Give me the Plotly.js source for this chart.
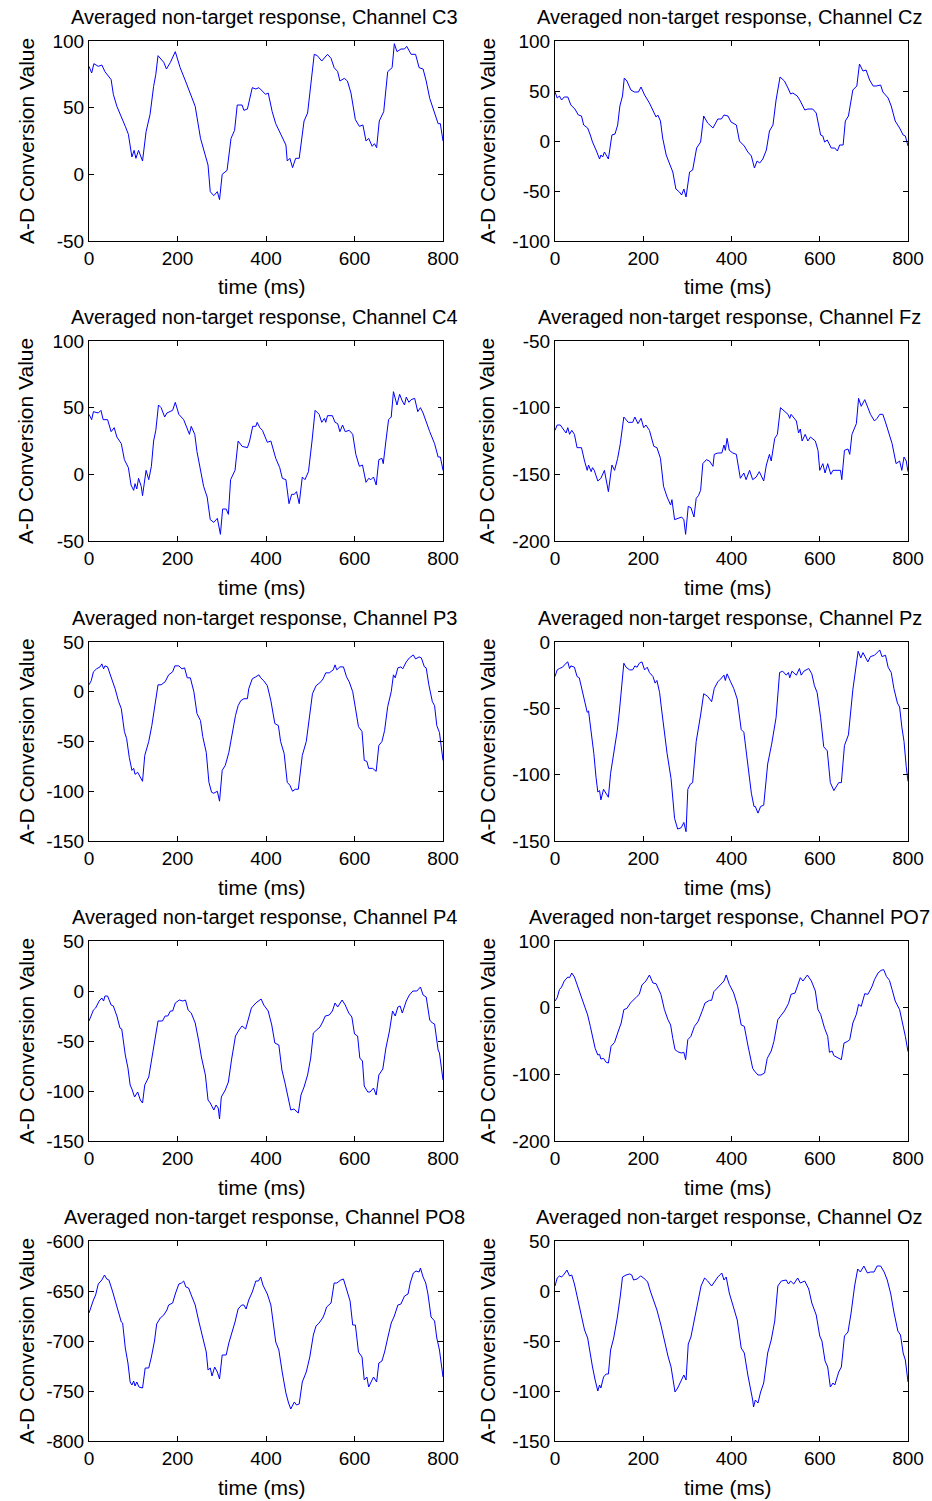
<!DOCTYPE html>
<html>
<head>
<meta charset="utf-8">
<script src="https://cdn.plot.ly/plotly-3.0.1.min.js"></script>
<style>html,body{margin:0;padding:0;background:#fff;}#chart{width:932px;height:1501px;}</style>
</head>
<body>
<div id="chart"></div>
<script>
// ---- Data ----
var channels = ["C3", "Cz", "C4", "Fz", "P3", "Pz", "P4", "PO7", "PO8", "Oz"];
var xTickVals = [0, 200, 400, 600, 800];
var xTickText = ["0", "200", "400", "600", "800"];

var t_C3 = [0,6,11,21,29,36,50,55,63,74,82,89,97,102,106,112,121,129,138,146,151,156,169,175,184,195,206,218,229,240,252,263,269,274,282,290,295,301,312,321,329,335,346,350,358,369,377,384,392,399,405,414,422,429,437,445,448,454,460,467,475,486,494,501,509,516,526,539,547,554,562,567,577,584,592,602,611,619,626,632,640,645,650,656,666,675,685,690,696,705,713,718,728,738,746,755,762,770,781,789,794,800];
var v_C3 = [81,76,83,81,82,77,71,60,51,43,36,30,13,18,12,18,10,32,45,66,75,89,84,79,84,92,80,70,61,51,27,15,7,-13,-16,-13,-19,0,3,27,33,52,52,48,49,65,64,65,62,60,61,47,38,33,27,22,10,12,5,12,12,40,46,67,90,89,85,90,87,80,77,70,72,70,61,41,36,37,25,27,21,23,20,40,47,77,80,98,92,94,94,96,90,90,80,79,70,57,45,38,38,25];

var t_Cz = [0,5,10,15,21,29,36,45,53,60,65,74,80,85,93,101,104,108,112,121,129,136,142,147,153,157,163,172,180,189,195,203,214,222,229,233,239,244,252,259,267,274,282,287,292,297,305,312,321,330,337,346,358,369,377,383,392,399,411,418,429,437,445,452,458,464,471,479,486,494,501,510,520,528,534,539,549,556,566,573,584,592,602,607,611,617,626,634,640,645,653,658,665,675,684,690,698,705,713,721,728,738,743,755,762,771,781,789,794,800];
var v_Cz = [49,43,45,41,44,44,36,32,26,25,16,13,6,-1,-9,-18,-14,-16,-11,-18,6,7,16,35,45,63,60,51,49,49,54,46,38,30,24,26,20,3,-14,-22,-31,-48,-51,-54,-48,-56,-31,-29,-7,-1,25,18,13,22,22,26,25,19,16,0,-5,-11,-15,-27,-20,-22,-18,-9,10,16,41,64,60,53,47,48,45,40,31,32,32,28,6,5,-1,1,-7,-7,-10,-4,-4,20,25,51,55,77,70,71,61,55,55,56,49,43,35,20,13,6,5,-5];

var t_C4 = [0,6,10,21,27,32,42,50,57,63,73,80,89,95,101,104,108,112,118,121,129,135,141,146,151,157,163,171,176,189,195,203,214,222,227,231,239,244,252,259,267,274,282,290,293,297,302,310,315,320,330,337,346,358,363,370,377,380,386,392,403,411,422,431,437,445,452,458,464,469,475,482,488,496,504,511,520,526,532,535,539,550,556,562,567,573,579,588,596,603,611,618,626,632,637,643,649,655,662,665,671,677,683,688,696,702,708,713,717,723,728,736,743,749,755,762,770,781,789,794,800];
var v_C4 = [45,41,47,46,48,41,41,32,35,28,23,11,5,-8,-12,-7,-11,-3,-9,-16,3,-4,6,25,33,52,50,43,46,48,54,45,41,35,30,36,30,17,2,-9,-17,-34,-36,-33,-38,-45,-26,-26,-30,-4,3,25,21,20,25,36,36,39,35,33,24,25,12,5,-3,-4,-22,-15,-15,-13,-22,-2,-4,2,25,48,45,39,42,39,44,44,39,38,32,37,32,33,30,15,6,7,-6,-3,-4,-2,-8,11,12,8,25,41,43,62,52,60,55,52,58,54,56,57,47,50,46,39,32,23,13,13,3];

var t_Fz = [0,5,12,20,25,29,33,38,44,50,60,67,73,76,82,85,89,97,104,112,116,121,129,135,142,148,156,166,176,181,188,195,201,206,214,224,231,239,246,254,262,265,271,278,287,292,296,302,308,315,320,325,330,335,343,350,358,361,369,378,383,386,390,395,403,411,420,428,433,441,448,456,463,473,479,486,490,498,504,511,520,528,532,535,547,552,556,560,567,573,579,590,596,600,607,612,618,625,630,641,647,650,656,664,668,673,683,688,694,702,708,715,724,730,736,743,751,764,773,781,786,791,796,800];
var v_Fz = [-117,-113,-113,-117,-119,-115,-120,-117,-120,-130,-130,-140,-147,-143,-148,-145,-147,-155,-153,-147,-153,-163,-143,-147,-138,-127,-107,-111,-111,-107,-112,-108,-115,-113,-117,-129,-130,-138,-159,-167,-173,-169,-184,-183,-182,-184,-195,-174,-175,-182,-168,-166,-162,-142,-139,-140,-144,-135,-134,-134,-128,-132,-123,-132,-134,-135,-153,-149,-154,-147,-154,-152,-148,-155,-143,-135,-140,-123,-120,-100,-103,-105,-108,-105,-110,-119,-116,-125,-120,-125,-122,-125,-132,-147,-142,-149,-142,-150,-147,-147,-147,-154,-132,-131,-135,-120,-112,-93,-99,-94,-99,-105,-110,-108,-105,-105,-113,-127,-142,-140,-147,-137,-140,-148];

var t_P3 = [0,5,10,17,25,29,33,36,42,51,59,67,73,80,85,91,97,101,104,110,116,121,126,135,142,148,156,163,172,180,189,194,203,210,216,222,229,237,244,252,257,265,271,277,282,290,295,301,308,316,324,331,337,343,350,358,361,369,377,384,388,395,403,411,420,428,433,441,448,454,460,466,473,482,491,499,505,513,524,529,535,543,552,556,560,567,575,582,588,596,602,609,617,622,628,632,641,649,655,662,668,675,683,688,692,698,705,709,717,724,733,738,746,751,758,762,768,776,781,786,792,800];
var v_P3 = [7,11,20,23,25,28,23,26,25,14,3,-10,-17,-40,-47,-66,-79,-77,-83,-81,-86,-90,-64,-50,-34,-17,7,7,10,17,20,26,26,23,24,14,14,0,-22,-29,-45,-61,-91,-101,-102,-100,-110,-79,-74,-61,-39,-24,-14,-9,-7,-7,3,13,15,17,14,11,6,-9,-32,-34,-50,-62,-91,-94,-100,-98,-98,-64,-50,-25,-2,6,10,13,19,19,22,27,22,25,25,15,10,0,-16,-35,-40,-69,-70,-77,-77,-80,-54,-50,-39,-15,0,17,14,24,25,23,30,34,37,33,35,34,25,24,7,-10,-14,-34,-41,-69];

var t_Pz = [0,5,10,17,25,29,33,36,44,50,55,63,68,73,76,82,88,93,97,101,104,110,116,121,126,133,141,146,150,156,161,169,176,181,186,191,197,203,209,214,222,227,231,237,242,248,254,263,271,278,286,292,297,301,307,312,320,330,337,346,355,361,369,375,383,386,390,398,405,413,422,428,437,445,451,454,460,466,473,482,491,501,509,516,524,529,532,537,547,554,558,564,575,582,588,594,602,609,617,624,632,637,643,649,656,665,675,687,693,698,704,709,715,724,736,741,749,755,762,768,776,781,786,791,796,800];
var v_Pz = [-26,-21,-20,-19,-16,-15,-20,-18,-19,-26,-27,-38,-44,-53,-52,-68,-84,-102,-113,-112,-119,-111,-114,-117,-99,-85,-67,-52,-36,-16,-19,-21,-21,-18,-19,-16,-15,-21,-19,-23,-26,-31,-29,-38,-52,-69,-84,-103,-133,-141,-140,-136,-143,-111,-107,-106,-75,-55,-39,-41,-45,-35,-30,-28,-25,-29,-24,-30,-35,-43,-66,-68,-95,-114,-124,-124,-129,-124,-123,-92,-77,-57,-23,-22,-25,-23,-27,-22,-25,-20,-25,-22,-20,-24,-33,-38,-57,-79,-82,-106,-112,-109,-106,-106,-78,-70,-36,-7,-12,-8,-12,-15,-11,-10,-6,-11,-10,-19,-23,-35,-46,-49,-64,-75,-94,-105];

var t_P4 = [0,5,10,15,23,29,33,36,42,50,55,63,70,74,82,88,93,97,103,110,116,121,126,135,142,148,156,166,172,178,184,189,195,204,212,218,224,231,240,248,254,263,269,274,282,287,292,295,299,308,315,322,331,339,346,354,360,367,377,384,389,395,405,413,420,429,436,443,451,456,463,467,473,479,486,494,501,507,514,522,528,534,543,550,556,562,572,579,587,594,600,607,612,618,622,630,635,643,649,655,664,671,679,686,692,698,703,708,717,724,732,741,749,755,762,770,776,781,789,792,800];
var v_P4 = [-30,-24,-19,-17,-10,-7,-10,-5,-5,-14,-15,-25,-37,-38,-64,-77,-94,-98,-106,-101,-109,-112,-94,-86,-67,-50,-30,-30,-25,-25,-20,-20,-12,-9,-10,-9,-19,-22,-32,-50,-66,-84,-109,-112,-119,-114,-117,-128,-106,-99,-91,-69,-45,-39,-35,-38,-29,-17,-12,-10,-8,-14,-20,-34,-52,-54,-79,-92,-111,-119,-118,-120,-122,-104,-96,-84,-67,-42,-39,-36,-31,-25,-24,-20,-12,-16,-9,-14,-22,-26,-43,-45,-67,-70,-95,-101,-101,-97,-104,-84,-78,-57,-40,-20,-25,-16,-15,-22,-10,-4,0,0,4,-4,-6,-29,-32,-33,-59,-62,-89];

var t_PO7 = [0,5,10,15,21,29,33,38,44,51,59,67,74,80,85,91,97,101,104,110,116,121,127,135,142,150,156,163,171,178,186,191,197,206,214,222,229,240,248,256,262,267,272,278,286,292,296,301,308,316,324,333,340,350,355,360,369,377,383,388,395,405,414,422,429,437,443,448,452,460,467,475,481,490,496,505,513,520,529,535,544,552,556,562,572,581,590,596,602,611,618,622,628,632,641,649,655,662,668,675,683,688,694,702,709,718,724,732,739,745,751,758,764,771,781,786,794,800];
var v_PO7 = [10,15,27,31,40,46,45,52,46,32,17,2,-11,-28,-41,-61,-71,-70,-77,-76,-82,-83,-58,-52,-38,-23,-3,-1,7,11,17,20,34,40,49,37,36,20,-3,-18,-26,-46,-63,-66,-68,-67,-78,-48,-43,-28,-21,-6,7,11,11,24,30,36,40,49,35,22,2,-26,-28,-56,-75,-91,-95,-101,-101,-98,-76,-65,-51,-18,-11,-5,6,20,22,36,45,40,49,40,25,-3,-10,-31,-43,-67,-65,-72,-75,-78,-53,-51,-48,-23,-10,5,2,21,20,31,42,52,56,57,47,41,27,10,-3,-18,-43,-66];

var t_PO8 = [0,5,10,15,21,29,35,40,45,53,59,67,73,76,82,88,93,97,101,104,108,113,121,127,135,141,148,153,161,169,176,180,189,195,203,209,214,219,225,231,240,248,254,259,265,269,274,278,284,290,295,301,310,316,322,330,337,345,350,355,361,369,377,383,388,393,403,411,422,429,437,445,451,456,464,469,475,482,491,499,507,513,520,528,532,537,547,554,560,569,575,581,590,596,602,609,617,622,628,632,637,643,650,655,662,668,675,683,690,698,705,713,721,726,733,739,746,749,755,761,766,773,781,786,792,800];
var v_PO8 = [-672,-665,-659,-654,-643,-639,-634,-638,-639,-650,-660,-672,-681,-682,-707,-722,-741,-744,-740,-745,-741,-746,-747,-727,-727,-716,-700,-683,-677,-674,-669,-664,-662,-653,-643,-642,-640,-646,-647,-654,-664,-680,-692,-702,-711,-729,-727,-735,-726,-731,-738,-714,-714,-702,-694,-681,-668,-664,-664,-668,-659,-651,-640,-640,-636,-644,-653,-664,-701,-709,-732,-752,-762,-768,-761,-764,-763,-741,-731,-716,-694,-685,-682,-677,-673,-666,-662,-642,-642,-639,-638,-647,-660,-684,-684,-711,-716,-739,-736,-746,-741,-736,-741,-722,-720,-711,-697,-682,-675,-664,-663,-655,-653,-642,-632,-630,-631,-627,-636,-642,-653,-676,-680,-697,-709,-736];

var t_Oz = [0,5,10,15,21,27,33,38,44,51,59,67,74,80,85,91,97,101,104,110,116,121,126,133,141,148,153,161,169,174,178,186,194,201,210,216,224,231,240,248,256,263,269,272,278,286,292,297,302,308,316,324,331,339,346,355,361,369,378,383,388,395,405,413,422,429,437,443,448,450,454,460,466,473,482,490,498,505,513,524,529,534,541,550,556,566,575,582,592,600,605,612,618,624,630,634,643,649,656,664,671,679,686,692,700,708,715,723,730,738,746,753,761,768,777,783,789,794,800];
var v_Oz = [5,13,15,14,17,21,15,16,7,-7,-24,-39,-47,-64,-76,-89,-100,-94,-97,-86,-83,-83,-59,-47,-27,-5,14,16,17,16,11,12,15,13,9,0,-10,-19,-34,-50,-65,-76,-92,-101,-97,-89,-84,-89,-53,-46,-29,-12,5,13,10,5,9,14,18,11,14,-2,-17,-29,-57,-62,-84,-97,-109,-116,-109,-112,-101,-92,-62,-49,-30,5,10,11,7,10,7,13,8,10,2,-12,-24,-45,-50,-70,-76,-96,-92,-94,-81,-76,-45,-41,-22,5,22,19,25,18,19,19,25,25,19,11,-3,-21,-40,-44,-62,-69,-91];

// y-axis ranges and tick labels per channel
var yRanges = {
  C3: [-50, 100], Cz: [-100, 100], C4: [-50, 100], Fz: [-200, -50], P3: [-150, 50],
  Pz: [-150, 0], P4: [-150, 50], PO7: [-200, 100], PO8: [-800, -600], Oz: [-150, 50]
};
var yTickVals = {
  C3: [-50, 0, 50, 100], Cz: [-100, -50, 0, 50, 100], C4: [-50, 0, 50, 100], Fz: [-200, -150, -100, -50],
  P3: [-150, -100, -50, 0, 50], Pz: [-150, -100, -50, 0], P4: [-150, -100, -50, 0, 50],
  PO7: [-200, -100, 0, 100], PO8: [-800, -750, -700, -650, -600], Oz: [-150, -100, -50, 0, 50]
};
var yTickText = {
  C3: ["-50", "0", "50", "100"], Cz: ["-100", "-50", "0", "50", "100"], C4: ["-50", "0", "50", "100"],
  Fz: ["-200", "-150", "-100", "-50"], P3: ["-150", "-100", "-50", "0", "50"], Pz: ["-150", "-100", "-50", "0"],
  P4: ["-150", "-100", "-50", "0", "50"], PO7: ["-200", "-100", "0", "100"],
  PO8: ["-800", "-750", "-700", "-650", "-600"], Oz: ["-150", "-100", "-50", "0", "50"]
};
var titlePrefix = "Averaged non-target response, Channel ";
var xTitle = "time (ms)";
var yTitle = "A-D Conversion Value";

// ---- Layout ----
var W = 932, H = 1501;
var colX = [[89, 443], [555, 908]];
var yTitleOffset = [63, 68];
var rowY = [[41, 241], [341, 541], [642, 841], [941, 1141], [1241, 1441]];
var series = {
  C3: [t_C3, v_C3], Cz: [t_Cz, v_Cz], C4: [t_C4, v_C4], Fz: [t_Fz, v_Fz], P3: [t_P3, v_P3],
  Pz: [t_Pz, v_Pz], P4: [t_P4, v_P4], PO7: [t_PO7, v_PO7], PO8: [t_PO8, v_PO8], Oz: [t_Oz, v_Oz]
};
var FONT = "Arial, 'Liberation Sans', sans-serif";
var FS_TICK = 19, FS_TITLE = 20, FS_AXT = 21;

var data = [];
var layout = {
  width: W, height: H, autosize: false,
  margin: {l: 0, r: 0, t: 0, b: 0, pad: 0},
  paper_bgcolor: "#fff", plot_bgcolor: "#fff",
  showlegend: false,
  font: {family: FONT, size: FS_TICK, color: "#000"},
  annotations: []
};
function px(p) { return p / W; }
function py(p) { return 1 - p / H; }

channels.forEach(function (ch, i) {
  var r = Math.floor(i / 2), c = i % 2;
  var n = i + 1;
  var xa = "xaxis" + (n === 1 ? "" : n), ya = "yaxis" + (n === 1 ? "" : n);
  var xr = "x" + (n === 1 ? "" : n), yr = "y" + (n === 1 ? "" : n);
  data.push({
    type: "scatter", mode: "lines", x: series[ch][0], y: series[ch][1],
    xaxis: xr, yaxis: yr, line: {color: "#0000ff", width: 1}, hoverinfo: "skip"
  });
  var common = {
    showgrid: false, zeroline: false, showline: true, linecolor: "#000", linewidth: 1,
    mirror: "ticks", ticks: "inside", ticklen: 5, tickwidth: 1, tickcolor: "#000",
    tickfont: {family: FONT, size: FS_TICK, color: "#000"}, tickmode: "array", fixedrange: true
  };
  layout[xa] = Object.assign({}, common, {
    domain: [px(colX[c][0]), px(colX[c][1])], anchor: yr, range: [0, 800],
    tickvals: xTickVals, ticktext: xTickText
  });
  layout[ya] = Object.assign({}, common, {
    domain: [py(rowY[r][1]), py(rowY[r][0])], anchor: xr, range: yRanges[ch],
    tickvals: yTickVals[ch], ticktext: yTickText[ch]
  });
  var cx = (colX[c][0] + colX[c][1]) / 2;
  layout.annotations.push({
    xref: "paper", yref: "paper", x: px(cx - 2), y: py(rowY[r][0] - 24),
    text: titlePrefix + ch, showarrow: false, xanchor: "center", yanchor: "middle",
    font: {family: FONT, size: FS_TITLE, color: "#000"}
  });
  layout.annotations.push({
    xref: "paper", yref: "paper", x: px(cx - 4), y: py(rowY[r][1] + 46),
    text: xTitle, showarrow: false, xanchor: "center", yanchor: "middle",
    font: {family: FONT, size: FS_AXT, color: "#000"}
  });
  layout.annotations.push({
    xref: "paper", yref: "paper", x: px(colX[c][0] - yTitleOffset[c]), y: py((rowY[r][0] + rowY[r][1]) / 2),
    text: yTitle, showarrow: false, textangle: -90, xanchor: "center", yanchor: "middle",
    font: {family: FONT, size: FS_AXT, color: "#000"}
  });
});

Plotly.newPlot("chart", data, layout, {displayModeBar: false, staticPlot: true});
</script>
</body>
</html>
